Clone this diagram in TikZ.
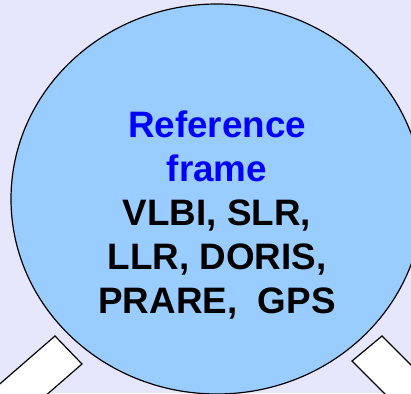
\documentclass[tikz,border=0pt]{standalone}
\usepackage{fontspec}
\setmainfont{Liberation Sans}
\usetikzlibrary{shapes.geometric}
\definecolor{bgcol}{RGB}{230,230,252}
\definecolor{framefill}{RGB}{153,204,255}
\definecolor{titleblue}{RGB}{0,0,255}
\begin{document}
\begin{tikzpicture}[x=1pt,y=-1pt,
  outline/.style={draw=black,line width=1.2pt,line join=miter},
  bigdisc/.style={outline,fill=framefill,ellipse,inner sep=0pt,
    minimum width=412pt,minimum height=390pt},
  armbar/.style={outline,fill=white},
  label/.style={align=center,inner sep=0pt,font=\bfseries\fontsize{36.8}{44}\selectfont}]
  % canvas
  \fill[bgcol] (0,0) rectangle (411,393);
  \useasboundingbox (0,0) rectangle (411,393);
  \begin{scope}
    \clip (0,0) rectangle (411,393);
    % bars leaving the disc towards the lower corners
    \draw[armbar] (55,336) -- (82,364) -- (6.5,429.6) -- (-20.5,401.6) -- cycle;
    \draw[armbar] (382,336) -- (352,361) -- (422.7,431.7) -- (452.7,406.7) -- cycle;
    % the disc
    \node[bigdisc] (frame) at (217,199) {};
  \end{scope}
  \node[label] (text) at (217,215)
    {\textcolor{titleblue}{Reference}\\
     \textcolor{titleblue}{frame}\\
     VLBI, SLR,\\
     LLR, DORIS,\\
     PRARE,\ \ GPS};
\end{tikzpicture}
\end{document}
